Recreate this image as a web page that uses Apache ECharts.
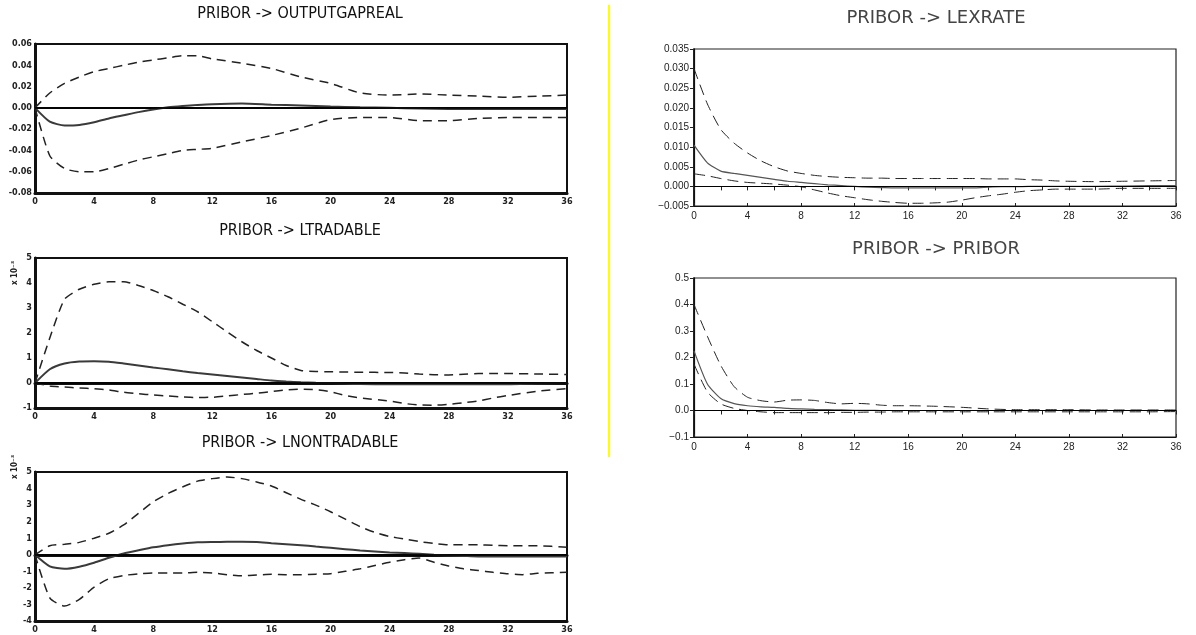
<!DOCTYPE html>
<html>
<head>
<meta charset="utf-8">
<title>PRIBOR impulse responses</title>
<script src="https://cdn.jsdelivr.net/npm/echarts@6/dist/echarts.min.js"></script>
<style>
  html, body { margin: 0; padding: 0; background: #fff; }
  #main { width: 1196px; height: 635px; }
</style>
</head>
<body>
<div id="main"></div>
<script>
// horizon steps and responses
var gapX   = [0, 1, 2, 3, 4, 5, 6, 7, 8, 9, 10, 11, 12, 14, 16, 18, 20, 22, 24, 26, 28, 30, 32, 34, 36];
var gapMid = [0, -0.013, -0.0165, -0.016, -0.0135, -0.010, -0.007, -0.004, -0.0015, 0.0005, 0.0018, 0.0028, 0.0035, 0.004, 0.003, 0.0022, 0.0013, 0.0005, 0, -0.0007, -0.001, -0.001, -0.001, -0.001, -0.001];
var gapUp  = [0, 0.014, 0.023, 0.029, 0.034, 0.037, 0.040, 0.043, 0.045, 0.047, 0.049, 0.049, 0.046, 0.042, 0.037, 0.029, 0.023, 0.014, 0.012, 0.013, 0.012, 0.011, 0.010, 0.011, 0.012];
var gapLo  = [0, -0.045, -0.057, -0.060, -0.060, -0.057, -0.053, -0.049, -0.046, -0.043, -0.040, -0.039, -0.038, -0.032, -0.026, -0.019, -0.011, -0.009, -0.009, -0.012, -0.012, -0.010, -0.009, -0.009, -0.009];

var ltrX   = [0, 1, 2, 3, 4, 5, 6, 7, 8, 9, 10, 11, 12, 13, 14, 15, 16, 17, 18, 19, 20, 21, 22, 24, 25, 26, 27, 28, 29, 30, 31, 32, 34, 36];
var ltrMid = [0, 0.55, 0.78, 0.86, 0.87, 0.85, 0.78, 0.7, 0.62, 0.55, 0.47, 0.4, 0.34, 0.28, 0.22, 0.16, 0.1, 0.06, 0.03, 0.01, 0, -0.02, -0.04, -0.05, -0.05, -0.05, -0.05, -0.05, -0.05, -0.05, -0.05, -0.05, -0.02, 0];
var ltrUp  = [0, 1.8, 3.35, 3.75, 3.95, 4.05, 4.05, 3.9, 3.7, 3.45, 3.15, 2.85, 2.45, 2.05, 1.65, 1.3, 1.0, 0.7, 0.5, 0.46, 0.45, 0.44, 0.43, 0.42, 0.4, 0.36, 0.33, 0.32, 0.35, 0.38, 0.38, 0.38, 0.36, 0.34];
var ltrLo  = [0, -0.12, -0.16, -0.2, -0.23, -0.28, -0.37, -0.43, -0.48, -0.52, -0.56, -0.58, -0.57, -0.52, -0.46, -0.41, -0.34, -0.28, -0.25, -0.27, -0.35, -0.5, -0.6, -0.72, -0.82, -0.88, -0.89, -0.85, -0.79, -0.72, -0.6, -0.5, -0.33, -0.23];

var lntX   = [0, 1, 2, 3, 4, 5, 6, 7, 8, 9, 10, 11, 12, 13, 14, 15, 16, 17, 18, 19, 20, 21, 22, 23, 24, 25, 26, 27, 28, 29, 30, 31, 32, 33, 34, 36];
var lntMid = [0, -0.7, -0.85, -0.72, -0.48, -0.18, 0.08, 0.27, 0.45, 0.58, 0.68, 0.75, 0.77, 0.78, 0.78, 0.77, 0.7, 0.64, 0.58, 0.5, 0.42, 0.34, 0.26, 0.2, 0.14, 0.1, 0.06, 0, -0.04, -0.07, -0.1, -0.1, -0.1, -0.1, -0.1, -0.1];
var lntUp  = [0, 0.55, 0.63, 0.75, 1.0, 1.3, 1.8, 2.5, 3.2, 3.7, 4.1, 4.45, 4.6, 4.7, 4.6, 4.4, 4.15, 3.75, 3.35, 3.0, 2.6, 2.15, 1.7, 1.35, 1.1, 0.95, 0.8, 0.68, 0.6, 0.6, 0.6, 0.57, 0.55, 0.54, 0.54, 0.46];
var lntLo  = [0, -2.6, -3.1, -2.7, -1.95, -1.45, -1.25, -1.15, -1.1, -1.1, -1.1, -1.06, -1.1, -1.2, -1.27, -1.22, -1.18, -1.2, -1.2, -1.17, -1.14, -1.0, -0.85, -0.65, -0.45, -0.3, -0.2, -0.45, -0.68, -0.85, -0.95, -1.06, -1.15, -1.2, -1.12, -1.06];

var lexX   = [0, 1, 2, 3, 4, 5, 6, 7, 8, 9, 10, 11, 12, 13, 14, 15, 16, 17, 18, 19, 20, 21, 22, 23, 24, 25, 26, 27, 28, 30, 32, 34, 36];
var lexMid = [0.0105, 0.006, 0.0039, 0.0033, 0.0028, 0.0023, 0.0018, 0.0013, 0.001, 0.0007, 0.0004, 0.0002, 0, -0.0002, -0.0003, -0.0004, -0.0004, -0.0004, -0.0004, -0.0004, -0.0004, -0.0004, -0.0002, -0.0001, -0.0001, 0, 0, 0, 0, 0, 0.0001, 0.0002, 0.0002];
var lexUp  = [0.030, 0.021, 0.0145, 0.011, 0.0085, 0.0065, 0.005, 0.0039, 0.0033, 0.0028, 0.0025, 0.0023, 0.0022, 0.0021, 0.0021, 0.002, 0.002, 0.002, 0.002, 0.002, 0.002, 0.002, 0.0019, 0.0019, 0.0019, 0.0017, 0.0016, 0.0014, 0.0013, 0.0012, 0.0013, 0.0014, 0.0015];
var lexLo  = [0.0032, 0.0027, 0.002, 0.0014, 0.001, 0.0008, 0.0006, 0.0003, -0.0001, -0.0009, -0.0017, -0.0024, -0.0029, -0.0034, -0.0038, -0.0041, -0.0043, -0.0043, -0.0042, -0.004, -0.0035, -0.0029, -0.0024, -0.002, -0.0015, -0.0011, -0.0009, -0.0007, -0.0007, -0.0007, -0.0005, -0.0005, -0.0005];

var priX   = [0, 1, 2, 3, 4, 5, 6, 7, 8, 9, 10, 11, 12, 13, 14, 15, 16, 18, 20, 22, 24, 26, 28, 30, 32, 34, 36];
var priMid = [0.225, 0.1, 0.045, 0.026, 0.018, 0.014, 0.012, 0.008, 0.006, 0.004, 0.003, 0.002, 0.001, 0.0005, 0, 0, 0, 0, 0, 0, 0, 0, 0, 0, 0, 0, 0];
var priUp  = [0.40, 0.28, 0.17, 0.09, 0.05, 0.037, 0.032, 0.039, 0.04, 0.038, 0.03, 0.025, 0.027, 0.025, 0.02, 0.018, 0.018, 0.016, 0.012, 0.006, 0.003, 0.003, 0.003, 0.002, 0.002, 0.002, 0.002];
var priLo  = [0.175, 0.07, 0.025, 0.008, 0, -0.005, -0.008, -0.008, -0.008, -0.008, -0.008, -0.007, -0.007, -0.006, -0.006, -0.005, -0.005, -0.005, -0.005, -0.005, -0.005, -0.005, -0.005, -0.005, -0.005, -0.005, -0.004];

var titles = ['PRIBOR -> OUTPUTGAPREAL', 'PRIBOR -> LTRADABLE', 'PRIBOR -> LNONTRADABLE', 'PRIBOR -> LEXRATE', 'PRIBOR -> PRIBOR'];
var scaleName = 'x 10\u207b\u00b3';

function pairs(xs, ys) {
    return xs.map(function (x, i) { return [x, ys[i]]; });
}

var panels = [
    { x: gapX, mid: gapMid, up: gapUp, lo: gapLo, min: -0.08, max: 0.06, step: 0.02, digits: 2, col: 0,
      grid: { left: 35, top: 44, width: 532, height: 149 }, titleY: 14 },
    { x: ltrX, mid: ltrMid, up: ltrUp, lo: ltrLo, min: -1, max: 5, step: 1, digits: 0, col: 0,
      grid: { left: 35, top: 258, width: 532, height: 150 }, titleY: 231 },
    { x: lntX, mid: lntMid, up: lntUp, lo: lntLo, min: -4, max: 5, step: 1, digits: 0, col: 0,
      grid: { left: 35, top: 472, width: 532, height: 149 }, titleY: 443 },
    { x: lexX, mid: lexMid, up: lexUp, lo: lexLo, min: -0.005, max: 0.035, step: 0.005, digits: 3, col: 1,
      grid: { left: 694, top: 49, width: 482, height: 157 }, titleY: 18 },
    { x: priX, mid: priMid, up: priUp, lo: priLo, min: -0.1, max: 0.5, step: 0.1, digits: 1, col: 1,
      grid: { left: 694, top: 278, width: 482, height: 159 }, titleY: 249 }
];

var leftFont = "'DejaVu Sans Condensed', 'DejaVu Sans', sans-serif";
var narrowFont = "'Liberation Sans Narrow', 'DejaVu Sans Condensed', sans-serif";
var rightFont = "'Liberation Sans', Arial, sans-serif";

var option = {
    backgroundColor: '#fff',
    animation: false,
    title: [],
    grid: [],
    xAxis: [],
    yAxis: [],
    series: [],
    graphic: []
};

panels.forEach(function (p, i) {
    var left = p.col === 0;
    var g = p.grid;
    option.grid.push({
        left: g.left, top: g.top, width: g.width, height: g.height,
        show: true, borderColor: left ? '#111' : '#222', borderWidth: left ? 2 : 1.2,
        backgroundColor: 'transparent'
    });
    option.title.push({
        text: titles[i],
        left: left ? 300 : 936,
        top: p.titleY - (left ? 8 : 9),
        textAlign: 'center',
        padding: 0,
        textStyle: {
            fontFamily: left ? narrowFont : "'DejaVu Sans', sans-serif",
            fontSize: left ? 16 : 18,
            fontWeight: 'normal',
            color: left ? '#111' : '#444'
        }
    });

    var labelStyle = left
        ? { fontFamily: leftFont, fontSize: 9, fontWeight: 'bold', color: '#222' }
        : { fontFamily: rightFont, fontSize: 10, color: '#222' };

    // bottom x axis
    option.xAxis.push({
        type: 'value', gridIndex: i, min: 0, max: 36, interval: 4,
        axisLine: { show: true, onZero: false, lineStyle: { color: '#111', width: left ? 3 : 1.2 } },
        axisTick: { show: !left, inside: true, length: 3, lineStyle: { color: '#222' } },
        splitLine: { show: false },
        axisLabel: Object.assign({ margin: left ? 4 : 5 }, labelStyle)
    });
    // top x axis (frame / minor ticks)
    option.xAxis.push({
        type: 'value', gridIndex: i, position: 'top', min: 0, max: 36, interval: 2,
        axisLine: { show: true, lineStyle: { color: '#111', width: left ? (i === 0 ? 2 : 3) : 1.2 } },
        axisTick: { show: !left, inside: true, length: 4, lineStyle: { color: '#222' } },
        axisLabel: { show: false },
        splitLine: { show: false }
    });
    option.yAxis.push({
        type: 'value', gridIndex: i, min: p.min, max: p.max, interval: p.step,
        axisLine: { show: true, onZero: false, lineStyle: { color: '#111', width: left ? 3 : 1.2 } },
        axisTick: { show: false },
        splitLine: { show: false },
        axisLabel: Object.assign({
            margin: left ? 3 : 5,
            formatter: function (v) {
                var s = v.toFixed(p.digits);
                if (Math.abs(v) < 1e-12) s = (0).toFixed(p.digits);
                return left ? s : s.replace('-', '\u2212');
            }
        }, labelStyle)
    });
    option.yAxis.push({
        type: 'value', gridIndex: i, position: 'right', min: p.min, max: p.max, interval: p.step,
        axisLine: { show: true, lineStyle: { color: '#111', width: left ? 2 : 1.6 } },
        axisTick: { show: !left, inside: true, length: 4, lineStyle: { color: '#222' } },
        axisLabel: { show: false },
        splitLine: { show: false }
    });

    var xi = i * 2, yi = i * 2;
    var dash = left ? [9, 6] : [11, 6];
    option.series.push({
        name: 'Response', type: 'line', xAxisIndex: xi, yAxisIndex: yi,
        data: pairs(p.x, p.mid), showSymbol: false, smooth: 0.2,
        lineStyle: { color: left ? '#3a3a3a' : '#555', width: left ? 2 : 1.2 },
        z: 3,
        markLine: {
            silent: true, symbol: 'none', label: { show: false },
            lineStyle: { color: '#000', width: left ? 1.5 : 1, type: 'solid' },
            data: [{ yAxis: 0 }]
        }
    });
    option.series.push({
        name: 'Upper', type: 'line', xAxisIndex: xi, yAxisIndex: yi,
        data: pairs(p.x, p.up), showSymbol: false, smooth: 0.2,
        lineStyle: { color: '#222', width: left ? 1.5 : 1, type: dash }
    });
    option.series.push({
        name: 'Lower', type: 'line', xAxisIndex: xi, yAxisIndex: yi,
        data: pairs(p.x, p.lo), showSymbol: false, smooth: 0.2,
        lineStyle: { color: '#222', width: left ? 1.5 : 1, type: dash }
    });
});

// rotated scale notes on the two level panels
[273, 467].forEach(function (cy) {
    option.graphic.push({
        type: 'text', x: 15, y: cy, rotation: Math.PI / 2,
        style: { text: scaleName, fill: '#222', font: "bold 8px 'DejaVu Sans Condensed', sans-serif",
                 align: 'center', verticalAlign: 'middle' }
    });
});

// yellow divider between the columns
option.graphic.push({
    type: 'line', shape: { x1: 609, y1: 5, x2: 609, y2: 457 },
    style: { stroke: '#ffff00', lineWidth: 2 }
});

var myChart = echarts.init(document.getElementById('main'), null, { renderer: 'canvas' });
myChart.setOption(option);
</script>
</body>
</html>
